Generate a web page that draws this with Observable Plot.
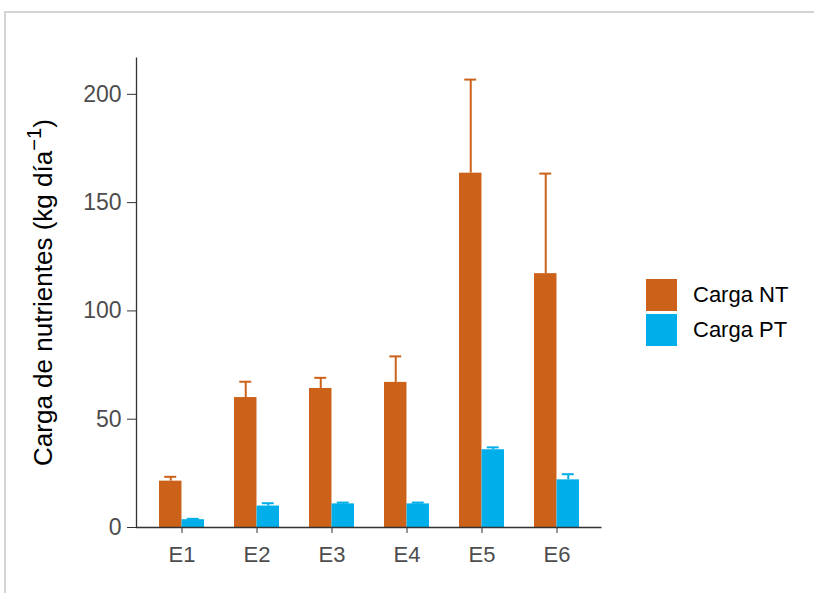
<!DOCTYPE html>
<html>
<head>
<meta charset="utf-8">
<script src="https://cdn.jsdelivr.net/npm/d3@7"></script>
<script src="https://cdn.jsdelivr.net/npm/@observablehq/plot@0.6"></script>
<style>
  html, body { margin: 0; padding: 0; background: #fff; }
  #wrap { position: relative; width: 814px; height: 593px; overflow: hidden; font-family: "Liberation Sans", Arial, sans-serif; }
  #border { position: absolute; left: 4px; top: 11px; right: -10px; bottom: -10px; border-top: 2px solid #d4d4d4; border-left: 2px solid #d4d4d4; }
  #chart { position: absolute; left: 0; top: 0; }
  #legend { position: absolute; left: 646px; top: 277px; }
  .row { display: flex; align-items: center; height: 35px; }
  .sw { width: 31px; height: 32px; margin-right: 16px; }
  .lab { font-size: 22px; color: #000; }
</style>
</head>
<body>
<div id="wrap">
  <div id="border"></div>
  <div id="chart"></div>
  <div id="legend"></div>
</div>
<script>
const categories = ["E1", "E2", "E3", "E4", "E5", "E6"];
const seriesNames = ["Carga NT", "Carga PT"];
const seriesColors = ["#CC6119", "#00AEEA"];
const ntValues = [21.4, 60.0, 64.2, 67.0, 163.6, 117.2];
const ntErrors = [2.0, 7.3, 4.9, 12.0, 43.2, 46.2];
const ptValues = [3.6, 9.9, 10.9, 10.9, 35.9, 22.0];
const ptErrors = [0.4, 1.3, 0.6, 0.6, 1.1, 2.6];
const yTicks = [0, 50, 100, 150, 200];
const yTitleMain = "Carga de nutrientes (kg día";
const yTitleSup = "\u22121";
const yTitleEnd = ")";
const yTitle = yTitleMain + yTitleSup + yTitleEnd;

const nt = categories.map((c, i) => ({cat: c, series: seriesNames[0], value: ntValues[i], top: ntValues[i] + ntErrors[i]}));
const pt = categories.map((c, i) => ({cat: c, series: seriesNames[1], value: ptValues[i], top: ptValues[i] + ptErrors[i]}));

const W = 620, H = 593;
const mL = 136, mR = 18.5, mT = 57, mB = 66;
const fw = W - mL - mR, fh = H - mT - mB;
const pInner = 0.4, pOuter = 0.3;
const step = fw / (categories.length - pInner + 2 * pOuter);
const bw = step * (1 - pInner);
const half = bw / 2;
const capW = 12;
const off = bw / 4;

const plot = Plot.plot({
  width: W,
  height: H,
  marginLeft: mL,
  marginRight: mR,
  marginTop: mT,
  marginBottom: mB,
  style: {fontFamily: "'Liberation Sans', Arial, sans-serif", background: "transparent"},
  x: {domain: categories, paddingInner: pInner, paddingOuter: pOuter, label: null},
  y: {domain: [0, 217], label: null},
  color: {domain: seriesNames, range: seriesColors},
  marks: [
    Plot.ruleX(nt, {x: "cat", y1: "value", y2: "top", stroke: seriesColors[0], strokeWidth: 2, dx: -off}),
    Plot.tickY(nt, {x: "cat", y: "top", stroke: seriesColors[0], strokeWidth: 2, insetLeft: half - off - capW / 2, insetRight: bw - (half - off - capW / 2) - capW}),
    Plot.ruleX(pt, {x: "cat", y1: "value", y2: "top", stroke: seriesColors[1], strokeWidth: 2, dx: off}),
    Plot.tickY(pt, {x: "cat", y: "top", stroke: seriesColors[1], strokeWidth: 2, insetLeft: half + off - capW / 2, insetRight: bw - (half + off - capW / 2) - capW}),
    Plot.barY(nt, {x: "cat", y: "value", fill: "series", insetRight: half}),
    Plot.barY(pt, {x: "cat", y: "value", fill: "series", insetLeft: half}),
    Plot.frame({stroke: "#333333", strokeWidth: 1.3, strokeDasharray: `0,${2 * fw + fh},${fh + 1},0`}),
    Plot.ruleY([0], {stroke: "#333333", strokeWidth: 1.3}),
    Plot.axisY({ticks: yTicks, tickSize: 9, tickPadding: 6, fontSize: 23, stroke: "#333333", fill: "#4d4d4d", label: null}),
    Plot.axisX({tickSize: 6, tickPadding: 13, fontSize: 22, stroke: "#333333", fill: "#4d4d4d", label: null}),
    Plot.text([yTitle], {frameAnchor: "left", textAnchor: "middle", lineAnchor: "middle", rotate: -90, dx: -93, fontSize: 26, fill: "#000"})
  ]
});
document.getElementById("chart").appendChild(plot);

// render the "-1" exponent of the axis title as a real superscript
d3.select(plot).selectAll("text").filter(function () { return this.textContent === yTitle; }).each(function () {
  const t = d3.select(this);
  t.text(null);
  t.append("tspan").text(yTitleMain);
  t.append("tspan").attr("font-size", "0.78em").attr("dy", "-0.55em").text(yTitleSup);
  t.append("tspan").attr("dy", "0.43em").text(yTitleEnd);
});

const legend = document.getElementById("legend");
seriesNames.forEach((name, i) => {
  const row = document.createElement("div");
  row.className = "row";
  const sw = document.createElement("div");
  sw.className = "sw";
  sw.style.background = seriesColors[i];
  const lab = document.createElement("span");
  lab.className = "lab";
  lab.textContent = name;
  row.appendChild(sw);
  row.appendChild(lab);
  legend.appendChild(row);
});
</script>
</body>
</html>
